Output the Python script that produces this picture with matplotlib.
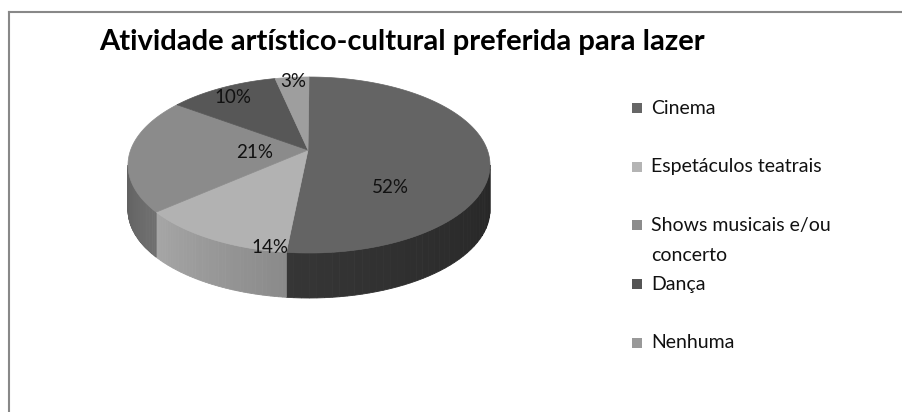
import numpy as np
import matplotlib.pyplot as plt
from matplotlib.patches import Polygon, Rectangle
from matplotlib.colors import to_rgb

# preferred cultural activity for leisure (percent of answers)
categories = ["Cinema", "Espetáculos teatrais", "Shows musicais e/ou concerto", "Dança", "Nenhuma"]
legend_lines = [["Cinema"], ["Espetáculos teatrais"], ["Shows musicais e/ou", "concerto"], ["Dança"], ["Nenhuma"]]
values = [52, 14, 21, 10, 3]
title = "Atividade artístico-cultural preferida para lazer"

top_colors = ["#646464", "#b2b2b2", "#8b8b8b", "#575757", "#9e9e9e"]
# side wall shading: colour at the start and at the end of each slice's arc
side_start = ["#262626", "#8a8a8a", "#707070", "#3c3c3c", "#7a7a7a"]
side_end = ["#363636", "#a6a6a6", "#616161", "#3c3c3c", "#7a7a7a"]
legend_colors = ["#666666", "#b4b4b4", "#8c8c8c", "#555555", "#999999"]

# pie geometry, in pixels (y grows downward)
cx, cy, a, b = 309, 165, 181, 88
apex = (308, 150)
depth = 45
label_r = [0.45, 0.40, 0.30, 0.87, 0.95]
label_dy = [20, 53, -10, 0, 0]

plt.rcParams['font.family'] = ['Lato', 'DejaVu Sans']

fig = plt.figure(figsize=(9.02, 4.12), dpi=100)
ax = fig.add_axes([0, 0, 1, 1])
ax.set_xlim(0, 902)
ax.set_ylim(412, 0)
ax.axis('off')


def rim(theta, drop=0.0):
    t = np.radians(theta)
    return np.column_stack([cx + a * np.sin(t), cy - b * np.cos(t) + drop])


total = float(sum(values))
edges = np.concatenate([[0], np.cumsum(values)]) / total * 360.0

# side walls first (only the front half is visible), drawn in thin shaded strips
for i in range(len(values)):
    lo, hi = max(edges[i], 90), min(edges[i + 1], 270)
    if hi <= lo:
        continue
    c0, c1 = np.array(to_rgb(side_start[i])), np.array(to_rgb(side_end[i]))
    steps = np.linspace(lo, hi, 41)
    for j in range(len(steps) - 1):
        th = np.linspace(steps[j], steps[j + 1], 4)
        pts = np.vstack([rim(th), rim(th[::-1], depth)])
        f = (j + 0.5) / (len(steps) - 1)
        col = c0 + (c1 - c0) * f
        ax.add_patch(Polygon(pts, closed=True, facecolor=col, edgecolor=col, lw=0.6))

# top faces
for i in range(len(values)):
    th = np.linspace(edges[i], edges[i + 1], 120)
    pts = np.vstack([[apex], rim(th)])
    ax.add_patch(Polygon(pts, closed=True, facecolor=top_colors[i],
                         edgecolor=top_colors[i], lw=0.5))

# percentage labels
for i, v in enumerate(values):
    mid = np.radians((edges[i] + edges[i + 1]) / 2)
    x = cx + label_r[i] * a * np.sin(mid)
    y = cy - label_r[i] * b * np.cos(mid) + label_dy[i]
    ax.text(x, y, f"{v}%", ha='center', va='center', fontsize=13.5, color='#111111')

ax.text(402, 42, title, ha='center', va='center', fontsize=21,
        fontweight='bold', color='black')

# legend
for i, lines in enumerate(legend_lines):
    y = 108 + i * 58.7
    ax.add_patch(Rectangle((632, y - 5), 10, 10, facecolor=legend_colors[i], edgecolor='none'))
    for k, line in enumerate(lines):
        ax.text(651, y + k * 30, line, ha='left', va='center', fontsize=14, color='#111111')

# chart frame
ax.plot([8.5, 902], [11.5, 11.5], color='#888888', lw=1.5)
ax.plot([8.5, 8.5], [11.5, 412], color='#888888', lw=1.5)

fig.savefig("out.png", dpi=100)
